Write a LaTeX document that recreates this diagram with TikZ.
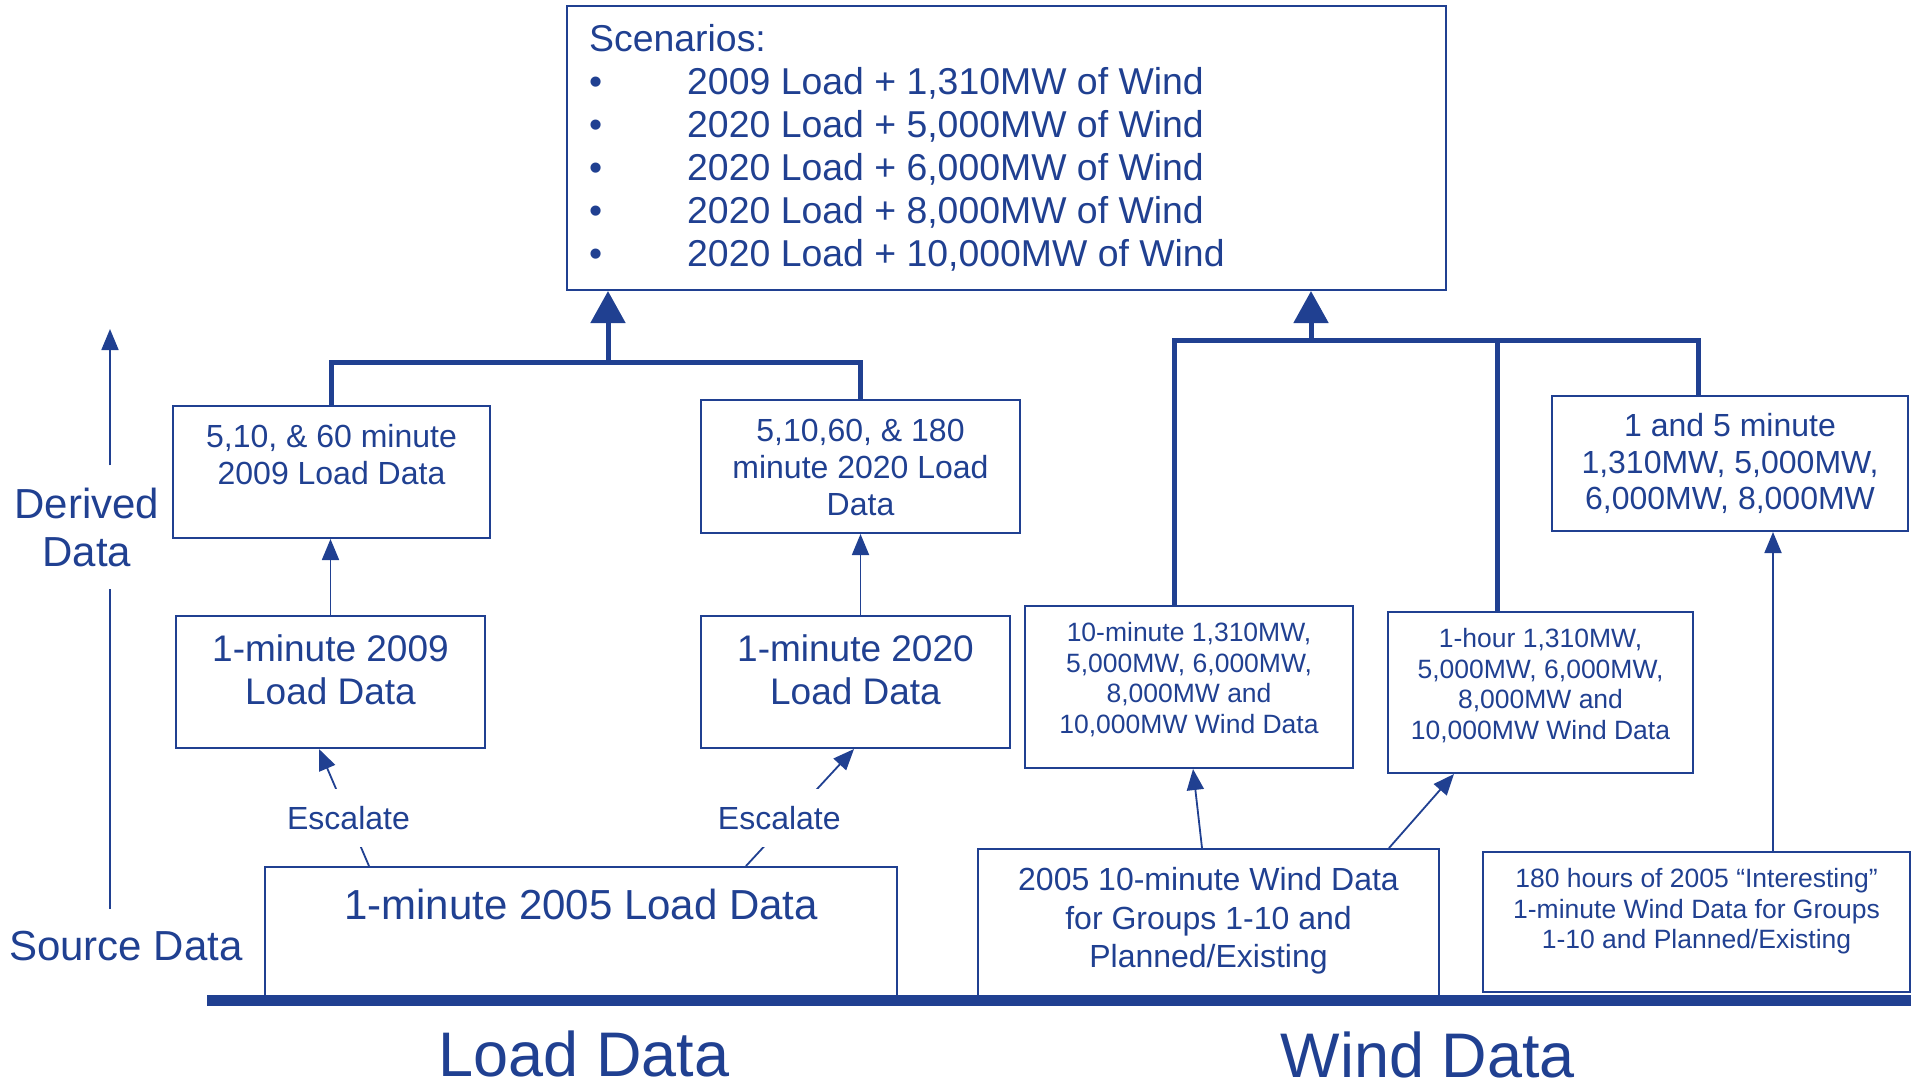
\documentclass[tikz,border=0pt]{standalone}
\usepackage{fontspec}
\setmainfont{Liberation Sans}
\usetikzlibrary{arrows.meta}
\definecolor{navy}{RGB}{32,64,145}
\newcommand{\fs}[2]{\fontsize{#1}{#2}\selectfont}
\tikzset{
  box/.style={draw=navy,line width=2pt,inner sep=0pt},
  boxtext/.style={anchor=north,inner sep=0pt,align=center,text=navy},
  feed/.style={draw=navy,line width=1.8pt,-{Triangle[width=17pt,length=21pt]}},
  bracket/.style={draw=navy,line width=5pt},
  bigarrow/.style={draw=navy,line width=5pt,-{Triangle[width=34pt,length=32pt]}},
  esc/.style={fill=white,text=navy,font=\fs{32}{37},inner xsep=4pt,inner ysep=17pt},
  axlabel/.style={text=navy,align=center,inner sep=0pt,font=\fs{42}{48}}
}
\begin{document}
\begin{tikzpicture}[x=1pt,y=-1pt]
\useasboundingbox (0,0) rectangle (1913,1088);

\node[box,minimum width=879,minimum height=284] (scen) at (1006.5,148) {};
\node[boxtext,anchor=north west,align=left,font=\fs{37.4}{43}] (scentxt) at (589,24) {Scenarios:\\
\makebox[98pt][l]{\textbullet}2009 Load + 1,310MW of Wind\\
\makebox[98pt][l]{\textbullet}2020 Load + 5,000MW of Wind\\
\makebox[98pt][l]{\textbullet}2020 Load + 6,000MW of Wind\\
\makebox[98pt][l]{\textbullet}2020 Load + 8,000MW of Wind\\
\makebox[98pt][l]{\textbullet}2020 Load + 10,000MW of Wind};

\node[box,minimum width=317,minimum height=132] (d09) at (331.5,472) {};
\node[boxtext,font=\fs{32}{37}] (d09txt) at ([yshift=-19pt]d09.north) {5,10, \& 60 minute\\2009 Load Data};
\node[box,minimum width=319,minimum height=133] (d20) at (860.5,466.5) {};
\node[boxtext,font=\fs{32}{37}] (d20txt) at ([yshift=-20pt]d20.north) {5,10,60, \& 180\\minute 2020 Load\\Data};
\node[box,minimum width=309,minimum height=132] (m09) at (330.5,682) {};
\node[boxtext,font=\fs{37}{43}] (m09txt) at ([yshift=-19pt]m09.north) {1-minute 2009\\Load Data};
\node[box,minimum width=309,minimum height=132] (m20) at (855.5,682) {};
\node[boxtext,font=\fs{37}{43}] (m20txt) at ([yshift=-19pt]m20.north) {1-minute 2020\\Load Data};

\node[box,minimum width=328,minimum height=162] (w10) at (1189,687) {};
\node[boxtext,font=\fs{26.5}{30.5}] (w10txt) at ([yshift=-17.5pt]w10.north) {10-minute 1,310MW,\\5,000MW, 6,000MW,\\8,000MW and\\10,000MW Wind Data};
\node[box,minimum width=305,minimum height=161] (w60) at (1540.5,692.5) {};
\node[boxtext,font=\fs{26.5}{30.5}] (w60txt) at ([yshift=-17.5pt]w60.north) {1-hour 1,310MW,\\5,000MW, 6,000MW,\\8,000MW and\\10,000MW Wind Data};
\node[box,minimum width=356,minimum height=135] (w15) at (1730,463.5) {};
\node[boxtext,font=\fs{32}{36.5}] (w15txt) at ([yshift=-18.5pt]w15.north) {1 and 5 minute\\1,310MW, 5,000MW,\\6,000MW, 8,000MW};

\node[box,minimum width=632,minimum height=130] (sload) at (581,932) {};
\node[boxtext,font=\fs{42}{48}] (sloadtxt) at ([yshift=-23pt]sload.north) {1-minute 2005 Load Data};
\node[box,minimum width=461,minimum height=148] (swind) at (1208.5,923) {};
\node[boxtext,font=\fs{32}{38.5}] (swindtxt) at ([yshift=-19.5pt]swind.north) {2005 10-minute Wind Data\\for Groups 1-10 and\\Planned/Existing};
\node[box,minimum width=427,minimum height=140] (sint) at (1696.5,922) {};
\node[boxtext,font=\fs{26.5}{30.5}] (sinttxt) at ([yshift=-17.5pt]sint.north) {180 hours of 2005 “Interesting”\\1-minute Wind Data for Groups\\1-10 and Planned/Existing};

\draw[navy,line width=11pt] (207,1000.5)--(1911,1000.5);

\coordinate (lbar) at (608,362);
\draw[bracket] (d09.north)--(d09.north |- lbar)--(d20.north |- lbar)--(d20.north);
\draw[bigarrow] (lbar)--(lbar |- scen.south);
\coordinate (wbar) at (1311,340);
\coordinate (w10top) at ([xshift=150pt]w10.north west);
\coordinate (w60top) at ([xshift=110pt]w60.north west);
\coordinate (w15top) at ([xshift=147pt]w15.north west);
\draw[bracket] (w10top)--(w10top |- wbar)--(w15top |- wbar)--(w15top);
\draw[bracket] (w60top)--(w60top |- wbar);
\draw[bigarrow] (wbar)--(wbar |- scen.south);

\draw[feed] (m09.north)--(m09.north |- d09.south);
\draw[feed] (d20.south |- m20.north)--(d20.south);
\coordinate (e1a) at ([xshift=105pt]sload.north west);
\coordinate (e1b) at ([xshift=144pt]m09.south west);
\coordinate (e2a) at ([xshift=482pt]sload.north west);
\coordinate (e2b) at ([xshift=154pt]m20.south west);
\draw[feed] (e1a)--node[esc,pos=0.41] (esc1) {Escalate} (e1b);
\draw[feed] (e2a)--node[esc,pos=0.41,xshift=-11pt] (esc2) {Escalate} (e2b);
\coordinate (f1a) at ([xshift=225pt]swind.north west);
\coordinate (f1b) at ([xshift=169pt]w10.south west);
\coordinate (f2a) at ([xshift=412pt]swind.north west);
\coordinate (f2b) at ([xshift=67pt]w60.south west);
\coordinate (f3a) at ([xshift=291pt]sint.north west);
\draw[feed] (f1a)--(f1b);
\draw[feed] (f2a)--(f2b);
\draw[feed] (f3a)--(f3a |- w15.south);

\node[axlabel,inner ysep=22pt] (derived) at (87,527) {Derived\\Data};
\node[axlabel] (source) at (126,946) {Source Data};
\coordinate (axbot) at (110,909);
\coordinate (axtop) at (110,329);
\draw[navy,line width=1.8pt] (axbot)--(axbot |- derived.south);
\draw[feed] (axbot |- derived.north)--(axtop);

\node[text=navy,font=\fs{63}{70},inner sep=0pt] (loadlbl) at (584,1054) {Load Data};
\node[text=navy,font=\fs{63}{70},inner sep=0pt] (windlbl) at (1428,1055) {Wind Data};
\end{tikzpicture}
\end{document}
